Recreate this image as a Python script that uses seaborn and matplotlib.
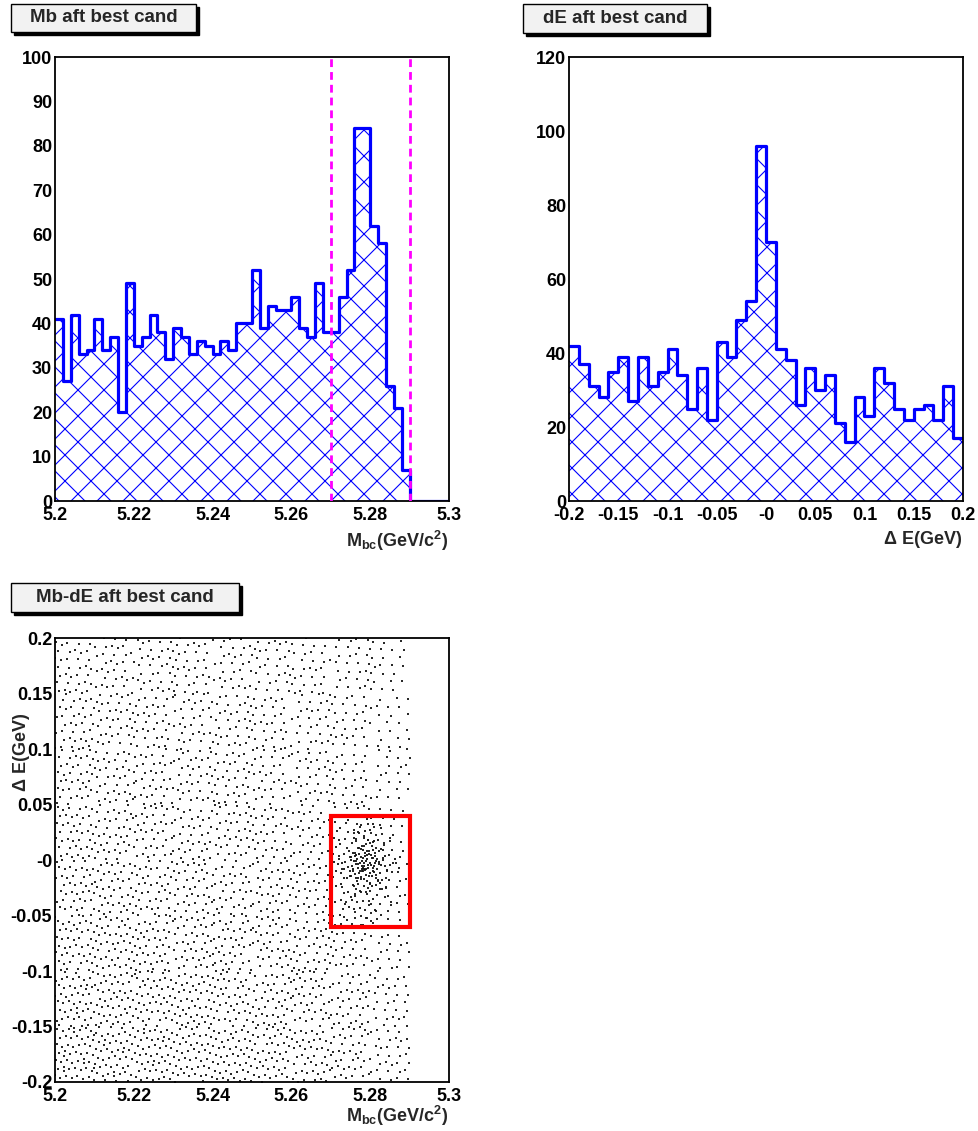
import numpy as np
import pandas as pd
import matplotlib
matplotlib.use("Agg")
import matplotlib.pyplot as plt
import seaborn as sns
from matplotlib.patches import Rectangle

# ---------------- data ----------------
# Mbc histogram: 50 bins from 5.20 to 5.30 GeV/c^2
mbc_range = (5.20, 5.30)
mbc_counts = [41, 27, 42, 33, 34, 41, 34, 37, 20, 49,
              35, 37, 42, 38, 32, 39, 37, 33, 36, 35,
              33, 36, 34, 40, 40, 52, 39, 44, 43, 43,
              46, 39, 37, 49, 38, 38, 46, 52, 84, 84,
              62, 58, 26, 21, 7, 0, 0, 0, 0, 0]

# Delta E histogram: 40 bins from -0.2 to 0.2 GeV
de_range = (-0.20, 0.20)
de_counts = [42, 37, 31, 28, 35, 39, 27, 39, 31, 35,
             41, 34, 25, 36, 22, 43, 39, 49, 54, 96,
             70, 41, 38, 26, 36, 30, 34, 21, 16, 28,
             23, 36, 32, 25, 22, 25, 26, 22, 31, 17]

# signal-window cut lines / box
mbc_cut = [5.27, 5.29]
de_cut = [-0.06, 0.04]

# Scatter: estimated point counts per cell (rows: dE from top to bottom)
bkg_mbc_edges = [5.20, 5.21, 5.22, 5.23, 5.24, 5.25, 5.26, 5.27, 5.28, 5.29]
bkg_de_edges = [0.20, 0.15, 0.10, 0.05, 0.00, -0.05, -0.10, -0.15, -0.20]
bkg_counts = [
    [36, 34, 33, 33, 32, 31, 30, 28, 22],
    [38, 36, 35, 34, 33, 32, 31, 29, 22],
    [40, 38, 37, 36, 35, 34, 33, 30, 24],
    [42, 40, 39, 38, 37, 36, 35, 32, 25],
    [44, 42, 41, 40, 39, 38, 37, 34, 27],
    [47, 45, 44, 43, 42, 41, 39, 36, 28],
    [51, 49, 48, 47, 45, 44, 42, 38, 30],
    [55, 53, 52, 50, 49, 47, 45, 41, 32],
]
sig_mbc_edges = [5.270, 5.272, 5.274, 5.276, 5.278, 5.280, 5.282, 5.284, 5.286, 5.288, 5.290]
sig_de_edges = [0.04, 0.03, 0.02, 0.01, 0.00, -0.01, -0.02, -0.03, -0.04, -0.05, -0.06]
sig_counts = [
    [0, 0, 1, 1, 1, 1, 0, 0, 0, 0],
    [0, 1, 1, 2, 2, 1, 1, 0, 0, 0],
    [0, 1, 2, 3, 4, 3, 2, 1, 0, 0],
    [1, 1, 3, 6, 8, 6, 3, 1, 1, 0],
    [1, 2, 4, 8, 10, 7, 4, 2, 1, 0],
    [0, 1, 3, 5, 6, 5, 3, 1, 0, 0],
    [0, 1, 2, 3, 3, 3, 2, 1, 0, 0],
    [0, 1, 1, 2, 2, 2, 1, 1, 0, 0],
    [0, 0, 1, 1, 1, 1, 1, 0, 0, 0],
    [0, 0, 1, 1, 1, 1, 0, 0, 0, 0],
]

titles = ["Mb aft best cand", "dE aft best cand", "Mb-dE aft best cand"]
mbc_label = r"$\mathrm{M_{bc}(GeV/c^{2})}$"
de_label = "\u0394 E(GeV)"
mbc_ticks = [5.20, 5.22, 5.24, 5.26, 5.28, 5.30]
mbc_ticklabels = ["5.2", "5.22", "5.24", "5.26", "5.28", "5.3"]
de_ticks = [-0.2, -0.15, -0.1, -0.05, 0.0, 0.05, 0.1, 0.15, 0.2]
de_ticklabels = ["-0.2", "-0.15", "-0.1", "-0.05", "-0", "0.05", "0.1", "0.15", "0.2"]

# ---------------- style ----------------
# A dpi of 78 gives a crosshatch spacing close to the reference; every size
# given in points is scaled by S so that pixel sizes stay as designed.
DPI = 78
S = 100.0 / DPI

sns.set_style("white")
plt.rcParams["font.family"] = ["Liberation Sans", "DejaVu Sans"]
plt.rcParams["font.weight"] = "bold"
plt.rcParams["mathtext.fontset"] = "custom"
plt.rcParams["mathtext.rm"] = "Liberation Sans:bold"
plt.rcParams["mathtext.bf"] = "Liberation Sans:bold"
plt.rcParams["mathtext.it"] = "Liberation Sans:bold:italic"
plt.rcParams["hatch.color"] = "#0000ff"
plt.rcParams["hatch.linewidth"] = 0.8 * S

W, H = 978, 1131
fig = plt.figure(figsize=(W / DPI, H / DPI), dpi=DPI)
fig.patch.set_facecolor("white")


def px_axes(x0, y0, x1, y1):
    return fig.add_axes([x0 / W, 1 - y1 / H, (x1 - x0) / W, (y1 - y0) / H])


def title_box(x0, y0, x1, y1, text):
    sh = 3
    fig.patches.append(Rectangle((x0 / W + sh / W, 1 - (y1 + sh) / H), (x1 - x0) / W, (y1 - y0) / H,
                                 transform=fig.transFigure, facecolor="black", edgecolor="black",
                                 lw=1 * S, zorder=1))
    fig.patches.append(Rectangle((x0 / W, 1 - y1 / H), (x1 - x0) / W, (y1 - y0) / H,
                                 transform=fig.transFigure, facecolor="#f2f2f2", edgecolor="black",
                                 lw=1 * S, zorder=2))
    fig.text((x0 + x1) / 2 / W, 1 - (y0 + y1) / 2 / H, text, ha="center", va="center",
             fontsize=13.5 * S, fontweight="bold", zorder=3)


def style_axes(ax):
    for s in ax.spines.values():
        s.set_visible(True)
        s.set_color("black")
        s.set_linewidth(1.3 * S)
    ax.tick_params(which="both", direction="in", top=False, right=False,
                   width=0.9 * S, color="black", labelsize=13 * S, labelcolor="black")
    ax.tick_params(which="major", length=8.5 * S)
    ax.tick_params(which="minor", length=4.5 * S)
    ax.tick_params(axis="x", pad=4 * S)
    ax.tick_params(axis="y", pad=2 * S)
    ax.set_xlabel("")
    ax.set_ylabel("")
    ax.grid(False)
    ax.set_facecolor("white")


def hist_panel(ax, counts, rng):
    n = len(counts)
    width = (rng[1] - rng[0]) / n
    centers = [rng[0] + (i + 0.5) * width for i in range(n)]
    df = pd.DataFrame({"x": centers, "w": counts})
    sns.histplot(data=df, x="x", weights="w", bins=n, binrange=rng, element="step", fill=True,
                 color="#0000ff", linewidth=0, ax=ax)
    coll = ax.collections[-1]
    coll.set_facecolor("none")
    coll.set_edgecolor("#0000ff")
    coll.set_linewidth(0)
    coll.set_hatch("x")
    sns.histplot(data=df, x="x", weights="w", bins=n, binrange=rng, element="step", fill=False,
                 color="#0000ff", linewidth=2.3 * S, ax=ax)


# ---------------- panel 1: Mbc ----------------
ax1 = px_axes(55, 57, 449, 501)
hist_panel(ax1, mbc_counts, mbc_range)
for xc in mbc_cut:
    ax1.axvline(xc, color="#ff00ff", lw=2.0 * S, dashes=(2.8, 1.8), zorder=5)
ax1.set_xlim(*mbc_range)
ax1.set_ylim(0, 100)
style_axes(ax1)
ax1.set_xticks(mbc_ticks, mbc_ticklabels)
ax1.set_xticks(np.arange(5.2, 5.3001, 0.005), minor=True)
ax1.set_yticks(np.arange(0, 101, 10), [str(v) for v in range(0, 101, 10)])
ax1.set_yticks(np.arange(0, 101, 2), minor=True)

# ---------------- panel 2: dE ----------------
ax2 = px_axes(569, 57, 963, 501)
hist_panel(ax2, de_counts, de_range)
ax2.set_xlim(*de_range)
ax2.set_ylim(0, 120)
style_axes(ax2)
ax2.set_xticks(de_ticks, de_ticklabels)
ax2.set_xticks(np.arange(-0.2, 0.2001, 0.01), minor=True)
ax2.set_yticks(np.arange(0, 121, 20), [str(v) for v in range(0, 121, 20)])
ax2.set_yticks(np.arange(0, 121, 5), minor=True)

# ---------------- panel 3: scatter ----------------
A1, A2 = 0.7548776662466927, 0.5698402909980532  # low-discrepancy placement inside each cell


def cell_points(counts, xe, ye, k0):
    xs, ys = [], []
    k = k0
    for i, row in enumerate(counts):
        for j, n in enumerate(row):
            for _ in range(n):
                k += 1
                u = (0.5 + A1 * k) % 1.0
                v = (0.5 + A2 * k) % 1.0
                xs.append(xe[j] + u * (xe[j + 1] - xe[j]))
                ys.append(ye[i + 1] + v * (ye[i] - ye[i + 1]))
    return xs, ys, k


bx, by, kk = cell_points(bkg_counts, bkg_mbc_edges, bkg_de_edges, 0)
sx, sy, _ = cell_points(sig_counts, sig_mbc_edges, sig_de_edges, kk + 17)
sc = pd.DataFrame({"mbc": bx + sx, "de": by + sy})

ax3 = px_axes(55, 638, 449, 1082)
sns.scatterplot(data=sc, x="mbc", y="de", marker="s", s=0.55 * S * S, linewidth=0,
                color="#111111", alpha=0.9, ax=ax3, legend=False)
ax3.add_patch(Rectangle((mbc_cut[0], de_cut[0]), mbc_cut[1] - mbc_cut[0], de_cut[1] - de_cut[0],
                        fill=False, edgecolor="#ff0000", lw=3.0 * S, zorder=5))
ax3.set_xlim(*mbc_range)
ax3.set_ylim(-0.2, 0.2)
style_axes(ax3)
ax3.set_xticks(mbc_ticks, mbc_ticklabels)
ax3.set_xticks(np.arange(5.2, 5.3001, 0.005), minor=True)
ax3.set_yticks(de_ticks, de_ticklabels)
ax3.set_yticks(np.arange(-0.2, 0.2001, 0.01), minor=True)

# ---------------- titles & axis labels ----------------
title_box(11, 4, 196, 32, titles[0])
title_box(523, 4, 707, 33, titles[1])
title_box(11, 583, 239, 612, titles[2])

fig.text(448 / W, 1 - 541 / H, mbc_label, ha="right", va="center", fontsize=13 * S)
fig.text(962 / W, 1 - 540 / H, de_label, ha="right", va="center", fontsize=13 * S, fontweight="bold")
fig.text(448 / W, 1 - 1116 / H, mbc_label, ha="right", va="center", fontsize=13 * S)
fig.text(21 / W, 1 - 713 / H, de_label, ha="center", va="top", rotation=90,
         fontsize=13 * S, fontweight="bold")

fig.savefig("out.png", dpi=DPI)
